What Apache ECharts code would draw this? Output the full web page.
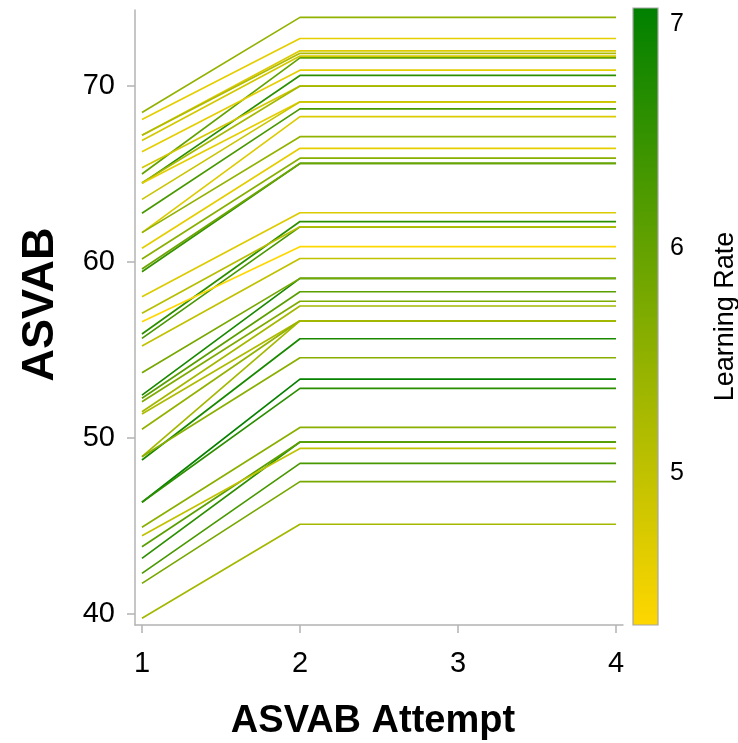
<!DOCTYPE html>
<html>
<head>
<meta charset="utf-8">
<script src="https://cdn.jsdelivr.net/npm/echarts@6/dist/echarts.min.js"></script>
<style>
html,body{margin:0;padding:0;background:#fff;}
#chart{width:738px;height:743px;}
</style>
</head>
<body>
<div id="chart"></div>
<script>
// ---- data ----
var attempts = [1, 2, 3, 4];
var xTickLabels = [1, 2, 3, 4];
var yTickLabels = [40, 50, 60, 70];
var rateTickLabels = [5, 6, 7];
// score at attempt 1
var firstScore = [68.50, 68.10, 67.20, 67.20, 66.90, 65.00, 66.27, 64.47, 65.36, 64.50,
                  64.47, 63.56, 62.77, 61.67, 61.67, 60.78, 60.17, 59.45, 59.60, 58.03,
                  55.91, 55.66, 57.09, 56.61, 55.23, 52.44, 53.71, 52.26, 52.06, 51.49,
                  51.36, 50.50, 48.94, 48.75, 48.94, 46.35, 46.35, 44.93, 43.16, 43.82,
                  44.45, 42.31, 41.74, 39.76];
// score at attempts 2-4 (flat)
var laterScore = [73.90, 72.70, 72.00, 71.86, 71.70, 71.60, 70.90, 70.60, 70.00, 70.00,
                  69.10, 69.10, 68.70, 68.26, 67.12, 66.46, 65.90, 65.60, 65.60, 62.80,
                  62.30, 62.00, 62.00, 60.87, 60.20, 59.07, 59.07, 58.31, 57.77, 57.50,
                  56.66, 56.66, 56.66, 55.64, 54.56, 53.35, 52.82, 50.60, 49.77, 49.77,
                  49.41, 48.56, 47.52, 45.10];
var learningRate = [5.5, 4.6, 4.7, 5.2, 4.8, 6.0, 4.6, 6.6, 4.8, 5.3,
                    4.6, 4.9, 6.3, 4.7, 5.5, 4.6, 5.6, 6.5, 5.9, 4.7,
                    6.6, 6.3, 5.1, 4.3, 5.0, 6.8, 5.8, 6.1, 5.7, 5.3,
                    5.2, 5.5, 5.3, 6.8, 5.6, 7.0, 6.6, 5.6, 6.6, 6.1,
                    5.0, 6.3, 5.8, 5.3];
var rateMin = 4.323, rateMax = 7.071;
var lowColor = [255, 215, 0], highColor = [0, 128, 0];

function rateColor(v) {
  var t = (v - rateMin) / (rateMax - rateMin);
  t = Math.max(0, Math.min(1, t));
  var c = lowColor.map(function (a, i) { return Math.round(a + (highColor[i] - a) * t); });
  return 'rgb(' + c.join(',') + ')';
}

var FONT = 'Liberation Sans';
var axisGrey = '#b3b3b3';

var series = firstScore.map(function (s, i) {
  return {
    type: 'line',
    xAxisIndex: 0, yAxisIndex: 0,
    data: attempts.map(function (a) { return [a, a === 1 ? s : laterScore[i]]; }),
    symbol: 'none',
    silent: true,
    lineStyle: { color: rateColor(learningRate[i]), width: 1.7 },
    z: 2
  };
});

var chart = echarts.init(document.getElementById('chart'), null, { renderer: 'canvas' });
chart.setOption({
  animation: false,
  backgroundColor: '#ffffff',
  grid: [
    { left: 135, top: 10, width: 488, height: 615, outerBoundsMode: 'none', containLabel: false },
    { left: 633, top: 8, width: 25, height: 617, outerBoundsMode: 'none', containLabel: false }
  ],
  xAxis: [
    {
      gridIndex: 0, type: 'value', min: 0.956, max: 4.044,
      name: 'ASVAB Attempt', nameLocation: 'middle', nameGap: 78,
      nameTextStyle: { fontFamily: FONT, fontSize: 38, fontWeight: 'bold', color: '#000', padding: [0, 12, 0, 0] },
      axisLine: { show: true, lineStyle: { color: axisGrey, width: 1.5 } },
      axisTick: { show: true, length: 8, customValues: xTickLabels, lineStyle: { color: axisGrey, width: 1.5 } },
      axisLabel: { customValues: xTickLabels, margin: 24, fontFamily: FONT, fontSize: 29, color: '#000' },
      splitLine: { show: false }
    },
    { gridIndex: 1, type: 'value', min: 0, max: 1, show: false }
  ],
  yAxis: [
    {
      gridIndex: 0, type: 'value', min: 39.375, max: 74.32,
      name: 'ASVAB', nameLocation: 'middle', nameGap: 72, nameRotate: 90,
      nameTextStyle: { fontFamily: FONT, fontSize: 45, fontWeight: 'bold', color: '#000', padding: [0, 0, 0, 26] },
      axisLine: { show: true, lineStyle: { color: axisGrey, width: 1.5 } },
      axisTick: { show: true, length: 8, customValues: yTickLabels, lineStyle: { color: axisGrey, width: 1.5 } },
      axisLabel: { customValues: yTickLabels, margin: 20, fontFamily: FONT, fontSize: 29, color: '#000' },
      splitLine: { show: false }
    },
    {
      gridIndex: 1, type: 'value', min: rateMin, max: rateMax, position: 'right',
      name: 'Learning Rate', nameLocation: 'middle', nameGap: 54, nameRotate: 90,
      nameTextStyle: { fontFamily: FONT, fontSize: 27, color: '#000' },
      axisLine: { show: false },
      axisTick: { show: true, length: 7, customValues: rateTickLabels, lineStyle: { color: axisGrey, width: 1.5 } },
      axisLabel: { customValues: rateTickLabels, margin: 12, fontFamily: FONT, fontSize: 25, color: '#000' },
      splitLine: { show: false }
    }
  ],
  graphic: [
    {
      type: 'rect',
      shape: { x: 633, y: 8, width: 25, height: 617 },
      style: {
        fill: new echarts.graphic.LinearGradient(0, 0, 0, 1, [
          { offset: 0, color: rateColor(rateMax) },
          { offset: 1, color: rateColor(rateMin) }
        ]),
        stroke: '#a6a6a6', lineWidth: 1.2
      },
      z: 1
    }
  ],
  series: series
});
</script>
</body>
</html>
